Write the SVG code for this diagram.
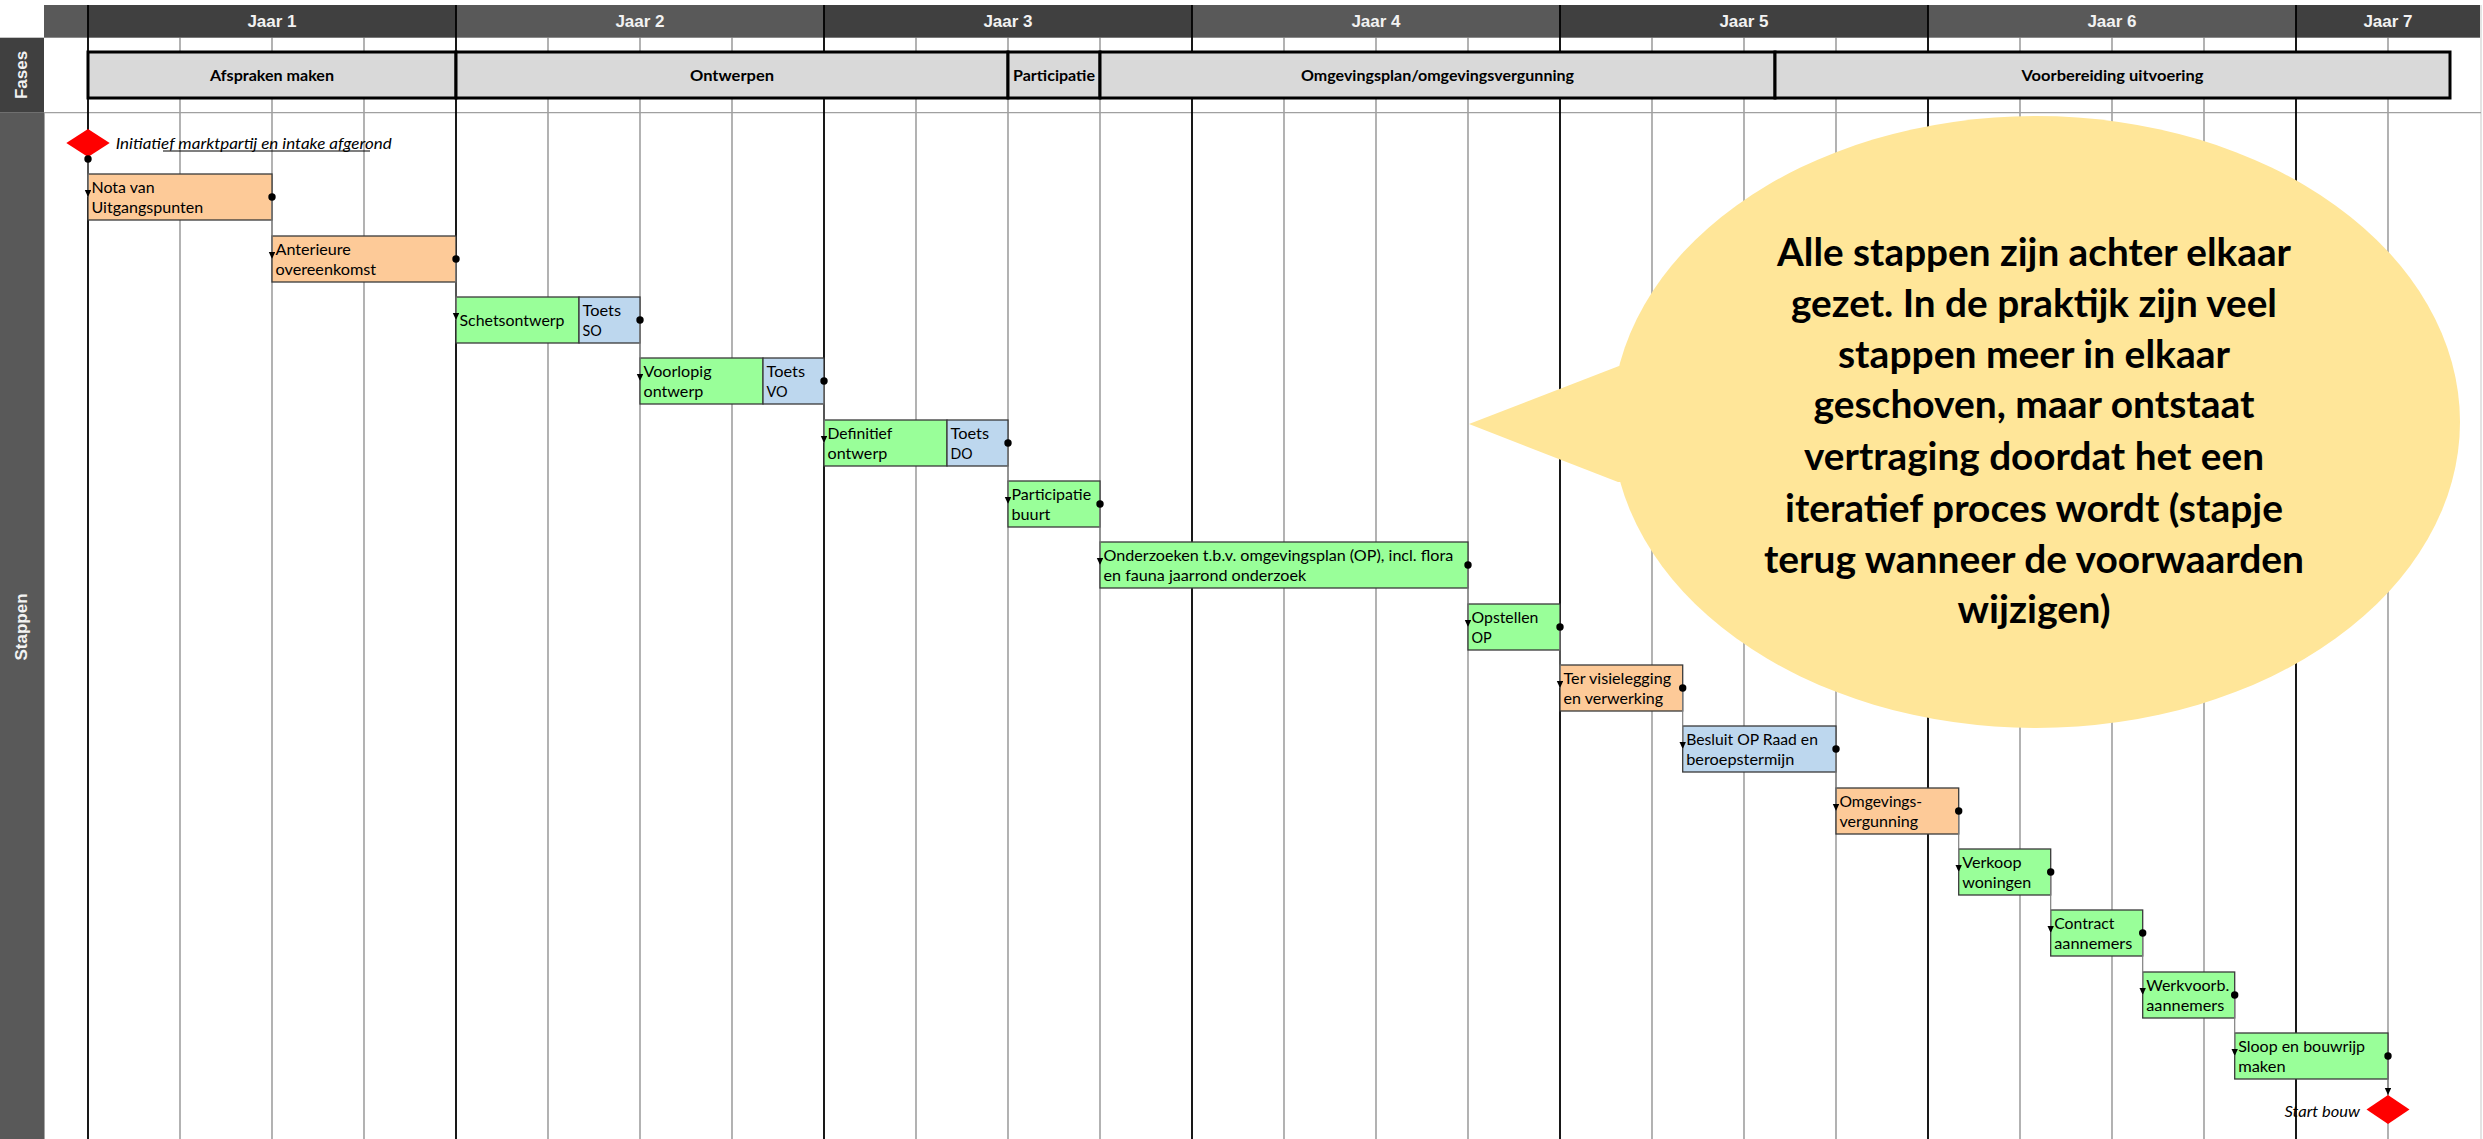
<svg xmlns="http://www.w3.org/2000/svg" width="2483" height="1139" viewBox="0 0 2483 1139">
<style>
.hd{font-family:'Liberation Sans',Arial,sans-serif;font-weight:bold;font-size:17px;fill:#f2f2f2;text-anchor:middle}
.ph rect{fill:#d9d9d9;stroke:#000;stroke-width:3}
.ph text{font-family:Lato,'Open Sans',sans-serif;font-weight:bold;font-size:15.5px;text-anchor:middle;fill:#000}
.st rect{stroke:#3a3a3a;stroke-width:1.3}
.st text{font-family:Lato,'Open Sans',sans-serif;font-size:16px;fill:#000}
.o{fill:#fdca98}
.g{fill:#99ff99}
.b{fill:#bdd7ee}
.q{stroke:#808080;stroke-width:1.2;fill:none}
.y{stroke:#000;stroke-width:1.8;fill:none}
.cn line{stroke:#7f7f7f;stroke-width:1.2;marker-start:url(#dot);marker-end:url(#arr)}
.ms{fill:#ff0000}
.it{font-family:Lato,'Open Sans',sans-serif;font-style:italic;font-size:15.5px;fill:#000}
.bub text{font-family:Lato,'Open Sans',sans-serif;font-weight:bold;font-size:37.5px;text-anchor:middle;fill:#000}
</style>
<defs>
<marker id="arr" markerUnits="userSpaceOnUse" markerWidth="8" markerHeight="8" refX="7" refY="3.2" orient="auto" viewBox="0 0 8 8"><path d="M0,0L7,3.2L0,6.4z" fill="#000"/></marker>
<marker id="dot" markerUnits="userSpaceOnUse" markerWidth="9" markerHeight="9" refX="4.5" refY="4.5" viewBox="0 0 9 9"><circle cx="4.5" cy="4.5" r="3.7" fill="#000"/></marker>
</defs>
<rect width="2483" height="1139" fill="#fff"/>

<g id="grid">
<path class="q" d="M180 37.7V1139M272 37.7V1139M364 37.7V1139M548 37.7V1139M640 37.7V1139M732 37.7V1139M916 37.7V1139M1008 37.7V1139M1100 37.7V1139M1284 37.7V1139M1376 37.7V1139M1468 37.7V1139M1652 37.7V1139M1744 37.7V1139M1836 37.7V1139M2020 37.7V1139M2112 37.7V1139M2204 37.7V1139M2388 37.7V1139"/>
<path d="M2481 5V1139" stroke="#d0d0d0" stroke-width="1.2"/>
<path d="M44 112.7H2481" stroke="#a0a0a0" stroke-width="1.2"/>
</g>

<g id="header">
<rect x="44" y="5" width="44" height="32.7" fill="#595959"/>
<rect x="88" y="5" width="368" height="32.7" fill="#404040"/>
<rect x="456" y="5" width="368" height="32.7" fill="#595959"/>
<rect x="824" y="5" width="368" height="32.7" fill="#404040"/>
<rect x="1192" y="5" width="368" height="32.7" fill="#595959"/>
<rect x="1560" y="5" width="368" height="32.7" fill="#404040"/>
<rect x="1928" y="5" width="368" height="32.7" fill="#595959"/>
<rect x="2296" y="5" width="184" height="32.7" fill="#404040"/>
<text class="hd" x="272" y="27.3">Jaar 1</text>
<text class="hd" x="640" y="27.3">Jaar 2</text>
<text class="hd" x="1008" y="27.3">Jaar 3</text>
<text class="hd" x="1376" y="27.3">Jaar 4</text>
<text class="hd" x="1744" y="27.3">Jaar 5</text>
<text class="hd" x="2112" y="27.3">Jaar 6</text>
<text class="hd" x="2388" y="27.3">Jaar 7</text>
<rect x="0" y="37.7" width="44" height="75" fill="#404040"/>
<rect x="0" y="112.7" width="44" height="1027" fill="#595959"/>
<path d="M44.5 112.7V1139" stroke="#a6a6a6" stroke-width="1"/>
<text class="hd" transform="translate(27,75) rotate(-90)">Fases</text>
<text class="hd" transform="translate(27,627) rotate(-90)">Stappen</text>
</g>

<path class="y" d="M88 5V1139M456 5V1139M824 5V1139M1192 5V1139M1560 5V1139M1928 5V1139M2296 5V1139"/>

<g class="ph">
<g id="fase-afspraken"><rect x="88" y="52" width="368" height="46"/><text x="272" y="81" textLength="124" lengthAdjust="spacingAndGlyphs">Afspraken maken</text></g>
<g id="fase-ontwerpen"><rect x="456" y="52" width="552" height="46"/><text x="732" y="81" textLength="84" lengthAdjust="spacingAndGlyphs">Ontwerpen</text></g>
<g id="fase-participatie"><rect x="1008" y="52" width="92" height="46"/><text x="1054" y="81" textLength="82" lengthAdjust="spacingAndGlyphs">Participatie</text></g>
<g id="fase-omgevingsplan"><rect x="1100" y="52" width="675" height="46"/><text x="1437.5" y="81" textLength="273" lengthAdjust="spacingAndGlyphs">Omgevingsplan/omgevingsvergunning</text></g>
<g id="fase-voorbereiding"><rect x="1775" y="52" width="675" height="46"/><text x="2112.5" y="81" textLength="182" lengthAdjust="spacingAndGlyphs">Voorbereiding uitvoering</text></g>
</g>

<g class="st">
<g id="s01"><rect class="o" x="88" y="174" width="184" height="46"/><text x="91.5" y="192.5" textLength="63.1" lengthAdjust="spacingAndGlyphs">Nota van</text><text x="91.5" y="212.5" textLength="111.6" lengthAdjust="spacingAndGlyphs">Uitgangspunten</text></g>
<g id="s02"><rect class="o" x="272" y="236" width="184" height="46"/><text x="275.5" y="254.5" textLength="75.4" lengthAdjust="spacingAndGlyphs">Anterieure</text><text x="275.5" y="274.5" textLength="100.7" lengthAdjust="spacingAndGlyphs">overeenkomst</text></g>
<g id="s03"><rect class="g" x="456" y="297" width="123" height="46"/><text x="459.5" y="326" textLength="105" lengthAdjust="spacingAndGlyphs">Schetsontwerp</text></g>
<g id="s03b"><rect class="b" x="579" y="297" width="61" height="46"/><text x="582.5" y="315.5" textLength="38.5" lengthAdjust="spacingAndGlyphs">Toets</text><text x="582.5" y="335.5" textLength="19.3" lengthAdjust="spacingAndGlyphs">SO</text></g>
<g id="s04"><rect class="g" x="640" y="358" width="123" height="46"/><text x="643.5" y="376.5" textLength="68" lengthAdjust="spacingAndGlyphs">Voorlopig</text><text x="643.5" y="396.5" textLength="59.8" lengthAdjust="spacingAndGlyphs">ontwerp</text></g>
<g id="s04b"><rect class="b" x="763" y="358" width="61" height="46"/><text x="766.5" y="376.5" textLength="38.5" lengthAdjust="spacingAndGlyphs">Toets</text><text x="766.5" y="396.5" textLength="21.1" lengthAdjust="spacingAndGlyphs">VO</text></g>
<g id="s05"><rect class="g" x="824" y="420" width="123" height="46"/><text x="827.5" y="438.5" textLength="64.8" lengthAdjust="spacingAndGlyphs">Definitief</text><text x="827.5" y="458.5" textLength="59.8" lengthAdjust="spacingAndGlyphs">ontwerp</text></g>
<g id="s05b"><rect class="b" x="947" y="420" width="61" height="46"/><text x="950.5" y="438.5" textLength="38.5" lengthAdjust="spacingAndGlyphs">Toets</text><text x="950.5" y="458.5" textLength="22" lengthAdjust="spacingAndGlyphs">DO</text></g>
<g id="s06"><rect class="g" x="1008" y="481" width="92" height="46"/><text x="1011.5" y="499.5" textLength="79.6" lengthAdjust="spacingAndGlyphs">Participatie</text><text x="1011.5" y="519.5" textLength="38.9" lengthAdjust="spacingAndGlyphs">buurt</text></g>
<g id="s07"><rect class="g" x="1100" y="542" width="368" height="46"/><text x="1103.5" y="560.5" textLength="349.7" lengthAdjust="spacingAndGlyphs">Onderzoeken t.b.v. omgevingsplan (OP), incl. flora</text><text x="1103.5" y="580.5" textLength="202.7" lengthAdjust="spacingAndGlyphs">en fauna jaarrond onderzoek</text></g>
<g id="s08"><rect class="g" x="1468" y="604" width="92" height="46"/><text x="1471.5" y="622.5" textLength="66.9" lengthAdjust="spacingAndGlyphs">Opstellen</text><text x="1471.5" y="642.5" textLength="20.3" lengthAdjust="spacingAndGlyphs">OP</text></g>
<g id="s09"><rect class="o" x="1560" y="665" width="122.7" height="46"/><text x="1563.5" y="683.5" textLength="107.6" lengthAdjust="spacingAndGlyphs">Ter visielegging</text><text x="1563.5" y="703.5" textLength="99.6" lengthAdjust="spacingAndGlyphs">en verwerking</text></g>
<g id="s10"><rect class="b" x="1682.7" y="726" width="153.3" height="46"/><text x="1686.2" y="744.5" textLength="131.7" lengthAdjust="spacingAndGlyphs">Besluit OP Raad en</text><text x="1686.2" y="764.5" textLength="108.1" lengthAdjust="spacingAndGlyphs">beroepstermijn</text></g>
<g id="s11"><rect class="o" x="1836" y="788" width="122.7" height="46"/><text x="1839.5" y="806.5" textLength="82.6" lengthAdjust="spacingAndGlyphs">Omgevings-</text><text x="1839.5" y="826.5" textLength="78.6" lengthAdjust="spacingAndGlyphs">vergunning</text></g>
<g id="s12"><rect class="g" x="1958.7" y="849" width="92" height="46"/><text x="1962.2" y="867.5" textLength="59.3" lengthAdjust="spacingAndGlyphs">Verkoop</text><text x="1962.2" y="887.5" textLength="69.1" lengthAdjust="spacingAndGlyphs">woningen</text></g>
<g id="s13"><rect class="g" x="2050.7" y="910" width="92" height="46"/><text x="2054.2" y="928.5" textLength="60.3" lengthAdjust="spacingAndGlyphs">Contract</text><text x="2054.2" y="948.5" textLength="78.1" lengthAdjust="spacingAndGlyphs">aannemers</text></g>
<g id="s14"><rect class="g" x="2142.7" y="972" width="92" height="46"/><text x="2146.2" y="990.5" textLength="83" lengthAdjust="spacingAndGlyphs">Werkvoorb.</text><text x="2146.2" y="1010.5" textLength="78.1" lengthAdjust="spacingAndGlyphs">aannemers</text></g>
<g id="s15"><rect class="g" x="2234.7" y="1033" width="153.3" height="46"/><text x="2238.2" y="1051.5" textLength="126.9" lengthAdjust="spacingAndGlyphs">Sloop en bouwrijp</text><text x="2238.2" y="1071.5" textLength="47.4" lengthAdjust="spacingAndGlyphs">maken</text></g>
</g>

<g id="m-start"><polygon class="ms" points="88,129 109.7,143 88,157 66.3,143"/><text class="it" x="115.7" y="149" textLength="276" lengthAdjust="spacingAndGlyphs">Initiatief marktpartij en intake afgerond</text><path d="M163 151H370" stroke="#000" stroke-width="1.2"/></g>
<g id="m-end"><polygon class="ms" points="2388,1095 2409.5,1109.5 2388,1124 2366.5,1109.5"/><text class="it" x="2360" y="1116.7" text-anchor="end" textLength="75.5" lengthAdjust="spacingAndGlyphs">Start bouw</text></g>

<g id="connectors" class="cn">
<line x1="88" y1="159" x2="88" y2="197"/>
<line x1="272" y1="197" x2="272" y2="259"/>
<line x1="456" y1="259" x2="456" y2="320"/>
<line x1="640" y1="320" x2="640" y2="381"/>
<line x1="824" y1="381" x2="824" y2="443"/>
<line x1="1008" y1="443" x2="1008" y2="504"/>
<line x1="1100" y1="504" x2="1100" y2="565"/>
<line x1="1468" y1="565" x2="1468" y2="627"/>
<line x1="1560" y1="627" x2="1560" y2="688"/>
<line x1="1682.7" y1="688" x2="1682.7" y2="749"/>
<line x1="1836" y1="749" x2="1836" y2="811"/>
<line x1="1958.7" y1="811" x2="1958.7" y2="872"/>
<line x1="2050.7" y1="872" x2="2050.7" y2="933"/>
<line x1="2142.7" y1="933" x2="2142.7" y2="995"/>
<line x1="2234.7" y1="995" x2="2234.7" y2="1056"/>
<line x1="2388" y1="1056" x2="2388" y2="1095"/>
</g>

<g id="callout" class="bub">
<ellipse cx="2036" cy="422" rx="424" ry="306" fill="#ffe699"/>
<polygon points="1619,366 1469,424 1618,482 1700,482 1700,366" fill="#ffe699"/>
<text x="2034" y="266" textLength="514" lengthAdjust="spacingAndGlyphs">Alle stappen zijn achter elkaar</text>
<text x="2034" y="317" textLength="486" lengthAdjust="spacingAndGlyphs">gezet. In de praktijk zijn veel</text>
<text x="2034" y="368" textLength="392" lengthAdjust="spacingAndGlyphs">stappen meer in elkaar</text>
<text x="2034" y="418" textLength="441" lengthAdjust="spacingAndGlyphs">geschoven, maar ontstaat</text>
<text x="2034" y="470" textLength="460" lengthAdjust="spacingAndGlyphs">vertraging doordat het een</text>
<text x="2034" y="522" textLength="498" lengthAdjust="spacingAndGlyphs">iteratief proces wordt (stapje</text>
<text x="2034" y="573" textLength="540" lengthAdjust="spacingAndGlyphs">terug wanneer de voorwaarden</text>
<text x="2034" y="623" textLength="153" lengthAdjust="spacingAndGlyphs">wijzigen)</text>
</g>
</svg>
